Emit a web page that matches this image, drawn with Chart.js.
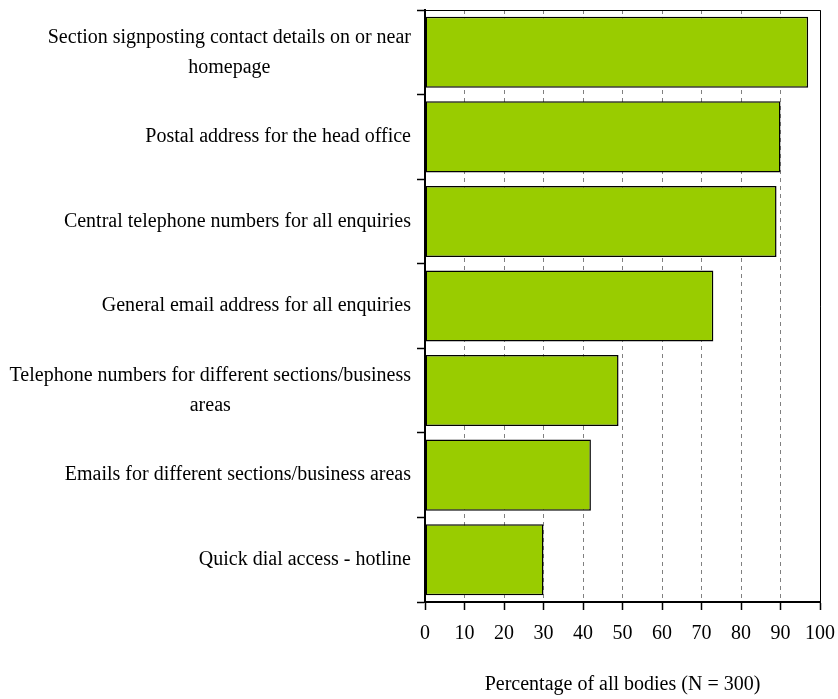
<!DOCTYPE html>
<html>
<head>
<meta charset="utf-8">
<script src="https://cdn.jsdelivr.net/npm/chart.js@4.4.0/dist/chart.umd.min.js"></script>
<style>
    html, body { margin: 0; padding: 0; background: #fff; }
    #wrap { width: 838px; height: 699px; }
</style>
</head>
<body>
<div id="wrap"><canvas id="contact-chart"></canvas></div>
<script>
let categories = [
    ["Section signposting contact details on or near", "homepage"],
    ["Postal address for the head office"],
    ["Central telephone numbers for all enquiries"],
    ["General email address for all enquiries"],
    ["Telephone numbers for different sections/business", "areas"],
    ["Emails for different sections/business areas"],
    ["Quick dial access - hotline"]
];
let percentages = [97, 90, 89, 73, 49, 42, 30];
let x_tick_values = [0, 10, 20, 30, 40, 50, 60, 70, 80, 90, 100];
let x_title = "Percentage of all bodies (N = 300)";

let label_font = '20px "Liberation Serif", "Times New Roman", serif';
let label_right = 411;
let line_height = 30;

// labels on the y axis are drawn here so wrapped ones can be centred like the original
let category_labels = {
    id: 'category_labels',
    afterDraw(chart) {
        let ctx = chart.ctx;
        let y_scale = chart.scales.y;
        ctx.save();
        ctx.font = label_font;
        ctx.fillStyle = '#000';
        ctx.textAlign = 'center';
        ctx.textBaseline = 'middle';
        categories.forEach((lines, i) => {
            let yc = y_scale.getPixelForTick(i);
            let widest = Math.max(...lines.map(l => ctx.measureText(l).width));
            let xc = label_right - widest / 2;
            lines.forEach((line, k) => {
                ctx.fillText(line, xc, yc + (k - (lines.length - 1) / 2) * line_height);
            });
        });
        ctx.restore();
    }
};

// closes the plot box on top and right
let plot_frame = {
    id: 'plot_frame',
    afterDraw(chart) {
        let ctx = chart.ctx;
        let a = chart.chartArea;
        ctx.save();
        ctx.strokeStyle = '#000';
        ctx.lineWidth = 1;
        ctx.beginPath();
        ctx.moveTo(a.left, a.top + 0.5);
        ctx.lineTo(a.right + 0.5, a.top + 0.5);
        ctx.lineTo(a.right + 0.5, a.bottom);
        ctx.stroke();
        ctx.restore();
    }
};

document.addEventListener("DOMContentLoaded", () => {
    let ctx = document.getElementById('contact-chart');
    new Chart(ctx, {
        type: 'bar',
        data: {
            labels: categories.map(l => l.join(' ')),
            datasets: [{
                data: percentages,
                backgroundColor: '#99cc00',
                borderColor: '#000',
                borderWidth: 1.5,
                borderSkipped: false,
                barPercentage: 0.84,
                categoryPercentage: 1.0
            }]
        },
        options: {
            indexAxis: 'y',
            responsive: true,
            maintainAspectRatio: false,
            animation: false,
            layout: { padding: { top: 10, right: 18, bottom: 2, left: 0 } },
            plugins: {
                legend: { display: false },
                tooltip: { enabled: false }
            },
            scales: {
                x: {
                    min: 0,
                    max: 100,
                    afterBuildTicks: (scale) => {
                        scale.ticks = x_tick_values.map(v => ({ value: v }));
                    },
                    afterFit: (scale) => { scale.paddingRight = 0; },
                    grid: {
                        color: '#808080',
                        lineWidth: 1,
                        borderDash: [4, 4],
                        tickColor: '#000',
                        tickLength: 8,
                        tickBorderDash: [],
                        tickWidth: 1.5
                    },
                    border: { color: '#000', width: 2, dash: [4, 4] },
                    ticks: {
                        font: { family: '"Liberation Serif", serif', size: 20 },
                        color: '#000',
                        padding: 12,
                        maxRotation: 0,
                        autoSkip: false
                    },
                    title: {
                        display: true,
                        text: x_title,
                        font: { family: '"Liberation Serif", serif', size: 20 },
                        color: '#000',
                        padding: { top: 15, bottom: 0 }
                    }
                },
                y: {
                    grid: {
                        drawOnChartArea: false,
                        color: '#000',
                        tickLength: 8,
                        tickWidth: 1.5,
                        offset: true
                    },
                    border: { color: '#000', width: 2 },
                    ticks: { display: false },
                    afterFit: (scale) => { scale.width = 425; }
                }
            }
        },
        plugins: [category_labels, plot_frame]
    });
});
</script>
</body>
</html>
